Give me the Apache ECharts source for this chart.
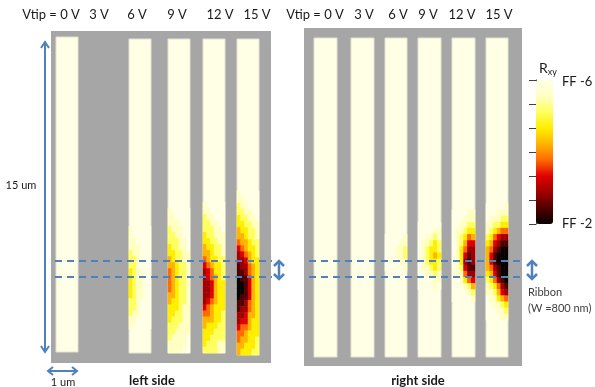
<!DOCTYPE html>
<html>
<head>
<meta charset="utf-8">
<script src="https://cdn.jsdelivr.net/npm/echarts@6/dist/echarts.min.js"></script>
<style>
  html, body { margin: 0; padding: 0; background: #fff; }
  #chart { width: 595px; height: 387px; }
</style>
</head>
<body>
<div id="chart"></div>
<script>
const voltages = ['0 V', '3 V', '6 V', '9 V', '12 V', '15 V']
const sideNames = ['left side', 'right side']
const scaleLabels = ['FF -6', 'FF -2']

// Rxy level per cell: 0 = background ... 9 = darkest.
// one string per row (6 cells across the strip), starting at row `first` of 52
const left6V = { first: 31, rows: [
  '100000', '100000', '110000', '111000', '211000', '221000', '221000', '321000', '321100',
  '321100', '321100', '321100', '221000', '221000', '211000', '110000', '100000',
] }
const left9V = { first: 28, rows: [
  '100000', '110000', '111000', '211100', '221100', '222110', '322110', '332211', '432211',
  '443221', '543221', '543221', '543221', '543221', '443221', '433221', '333211', '332211',
  '322211', '222111', '221111', '211110', '111110', '111100',
] }
const left12V = { first: 27, rows: [
  '100000', '110000', '211000', '221100', '222110', '322111', '332211', '433221', '443221',
  '543322', '654332', '765332', '765432', '776433', '776433', '776433', '765433', '654333',
  '554332', '444332', '433322', '333222', '332222', '322211', '222211',
] }
const left15V = { first: 25, rows: [
  '100000', '110000', '211000', '221100', '322110', '332211', '433221', '443221', '544322',
  '654332', '765432', '776433', '877543', '887543', '988643', '998643', '998643', '988643',
  '887543', '877543', '776443', '766433', '655433', '554333', '544332', '443332', '433322',
] }
const right6V = { first: 32, rows: [
  '000001', '000011', '000112', '000112', '000011', '000001',
] }
const right9V = { first: 30, rows: [
  '000000', '000011', '001121', '011232', '012332', '012343', '012332', '011232', '001121',
  '000011', '000010',
] }
const right12V = { first: 28, rows: [
  '000011', '000111', '001122', '011233', '012354', '012466', '013577', '013687', '013787',
  '012688', '011577', '001356', '000124', '000012', '000001',
] }
const right15V = { first: 27, rows: [
  '000001', '000111', '011122', '112233', '123455', '235677', '346788', '457899', '468999',
  '468999', '457899', '346899', '235789', '123578', '112467', '011345', '001123', '000112',
  '000011',
] }

const leftMaps = [null, null, left6V, left9V, left12V, left15V]
const rightMaps = [null, null, right6V, right9V, right12V, right15V]

const CREAM = '#FFFFE6'
const GRAY = '#A6A6A6'
const BLUE = '#4F81BD'
const FONT = 'Lato'
const ROWS = 52
const COLS = 6
const levelColors = ['#FFFFE6', '#FFFFC4', '#FFFF60', '#FFEE00', '#FFB400', '#FF6A00',
  '#E00000', '#A00000', '#500000', '#080000']

// strip boxes [left, top, width, height]; the 3 V strip is missing on the left side
const leftBoxes = [[56, 37, 22, 315], null, [129, 39, 22, 314], [168, 39, 22, 314],
  [203, 39, 22, 314], [237, 39, 22, 316]]
const rightBoxes = [[314, 38, 23, 319], [351, 38, 23, 319], [385, 38, 22, 319],
  [418, 38, 23, 319], [452, 38, 23, 319], [486, 38, 22, 319]]

const colCats = Array.from({ length: COLS }, (_, i) => 'c' + i)
const rowCats = Array.from({ length: ROWS }, (_, i) => 'r' + i)

const grids = []
const xAxes = []
const yAxes = []
const series = []

function cellData(map) {
  const out = []
  if (!map) return out
  map.rows.forEach((row, r) => {
    for (let c = 0; c < COLS; c++) out.push([c, map.first + r, +row[c]])
  })
  return out
}

function addStrip(box, map) {
  if (!box) return
  const gi = grids.length
  grids.push({
    left: box[0], top: box[1], width: box[2], height: box[3],
    show: true, backgroundColor: CREAM, borderColor: '#E2E2D2', borderWidth: 1,
  })
  xAxes.push({ type: 'category', gridIndex: gi, data: colCats, show: false })
  yAxes.push({ type: 'category', gridIndex: gi, data: rowCats, show: false, inverse: true })
  series.push({
    type: 'heatmap', xAxisIndex: gi, yAxisIndex: gi, data: cellData(map),
    silent: true, progressive: 0, itemStyle: { borderWidth: 0 },
  })
}

leftBoxes.forEach((b, i) => addStrip(b, leftMaps[i]))
rightBoxes.forEach((b, i) => addStrip(b, rightMaps[i]))

// colour bar tick axis
const cbi = grids.length
grids.push({ left: 536, top: 80, width: 17, height: 144, show: false })
xAxes.push({ type: 'value', gridIndex: cbi, show: false })
yAxes.push({
  type: 'value', gridIndex: cbi, min: 0, max: 6, interval: 1,
  axisLine: { show: true, lineStyle: { color: '#404040', width: 1 } },
  axisTick: { show: true, length: 7, lineStyle: { color: '#404040' } },
  axisLabel: { show: false }, splitLine: { show: false },
})

const text = (x, y, s, o = {}) => ({
  type: 'text', x, y, z: 100,
  style: Object.assign({ text: s, font: `13px ${FONT}`, fill: '#1a1a1a', align: 'center', verticalAlign: 'middle' }, o),
})
const line = (x1, y1, x2, y2, o = {}) => ({
  type: 'line', z: 100, shape: { x1, y1, x2, y2 },
  style: Object.assign({ stroke: BLUE, lineWidth: 2 }, o),
})
const poly = (points, w = 2) => ({
  type: 'polyline', z: 100, shape: { points }, style: { stroke: BLUE, lineWidth: w, fill: null },
})

const graphics = [
  { type: 'rect', z: -10, shape: { x: 51, y: 31, width: 220, height: 332 }, style: { fill: GRAY } },
  { type: 'rect', z: -10, shape: { x: 304, y: 28, width: 218, height: 338 }, style: { fill: GRAY } },
]

const leftLabelX = [51, 99, 137, 177, 220, 257]
const rightLabelX = [315, 364, 398, 428, 462, 499]
voltages.forEach((v, i) => {
  const s = i === 0 ? 'Vtip = ' + v : v
  graphics.push(text(leftLabelX[i], 15, s, { font: `13px ${FONT}` }))
  graphics.push(text(rightLabelX[i], 15, s, { font: `13px ${FONT}` }))
})
graphics.push(text(152, 381, sideNames[0], { font: `bold 13px ${FONT}` }))
graphics.push(text(418, 381, sideNames[1], { font: `bold 13px ${FONT}` }))
graphics.push(text(21, 185, '15 um', { font: `11px ${FONT}` }))
graphics.push(text(63, 382, '1 um', { font: `11px ${FONT}` }))
graphics.push(text(528, 292, 'Ribbon', { font: `11px ${FONT}`, align: 'left', fill: '#404040' }))
graphics.push(text(528, 308, '(W =800 nm)', { font: `11px ${FONT}`, align: 'left', fill: '#404040' }))
graphics.push(text(562, 82, scaleLabels[0], { font: `13px ${FONT}`, align: 'left' }))
graphics.push(text(562, 224, scaleLabels[1], { font: `13px ${FONT}`, align: 'left' }))
graphics.push({
  type: 'text', x: 539, y: 68, z: 100,
  style: {
    text: 'R{s|xy}', font: `14px ${FONT}`, fill: '#1a1a1a', verticalAlign: 'middle',
    rich: { s: { fontSize: 9, fontFamily: FONT, padding: [8, 0, 0, 0], fill: '#1a1a1a' } },
  },
})

// ribbon edges
const dash = { lineDash: [7, 5], lineWidth: 2 }
graphics.push(line(55, 261, 272, 261, dash), line(55, 277, 272, 277, dash))
graphics.push(line(309, 261, 524, 261, dash), line(309, 277, 524, 277, dash))

// length arrows
graphics.push(line(45, 42, 45, 352), poly([[41, 48], [45, 42], [49, 48]]), poly([[41, 346], [45, 352], [49, 346]]))
graphics.push(line(48, 371, 77, 371), poly([[53, 367], [48, 371], [53, 375]]), poly([[72, 367], [77, 371], [72, 375]]))
;[279, 532].forEach(x => {
  graphics.push(line(x, 261, x, 279, { lineWidth: 2.5 }),
    poly([[x - 5, 266], [x, 261], [x + 5, 266]], 2.5),
    poly([[x - 5, 274], [x, 279], [x + 5, 274]], 2.5))
})

const chart = echarts.init(document.getElementById('chart'), null, { renderer: 'canvas' })
chart.setOption({
  animation: false,
  backgroundColor: '#fff',
  grid: grids,
  xAxis: xAxes,
  yAxis: yAxes,
  visualMap: {
    type: 'continuous', min: 0, max: 9, show: true, calculable: false,
    seriesIndex: series.map((_, i) => i),
    inverse: true, orient: 'vertical', left: 536, top: 80, padding: 0,
    itemWidth: 17, itemHeight: 144, hoverLink: false,
    inRange: { color: levelColors },
  },
  series,
  graphic: { elements: graphics },
})
</script>
</body>
</html>
